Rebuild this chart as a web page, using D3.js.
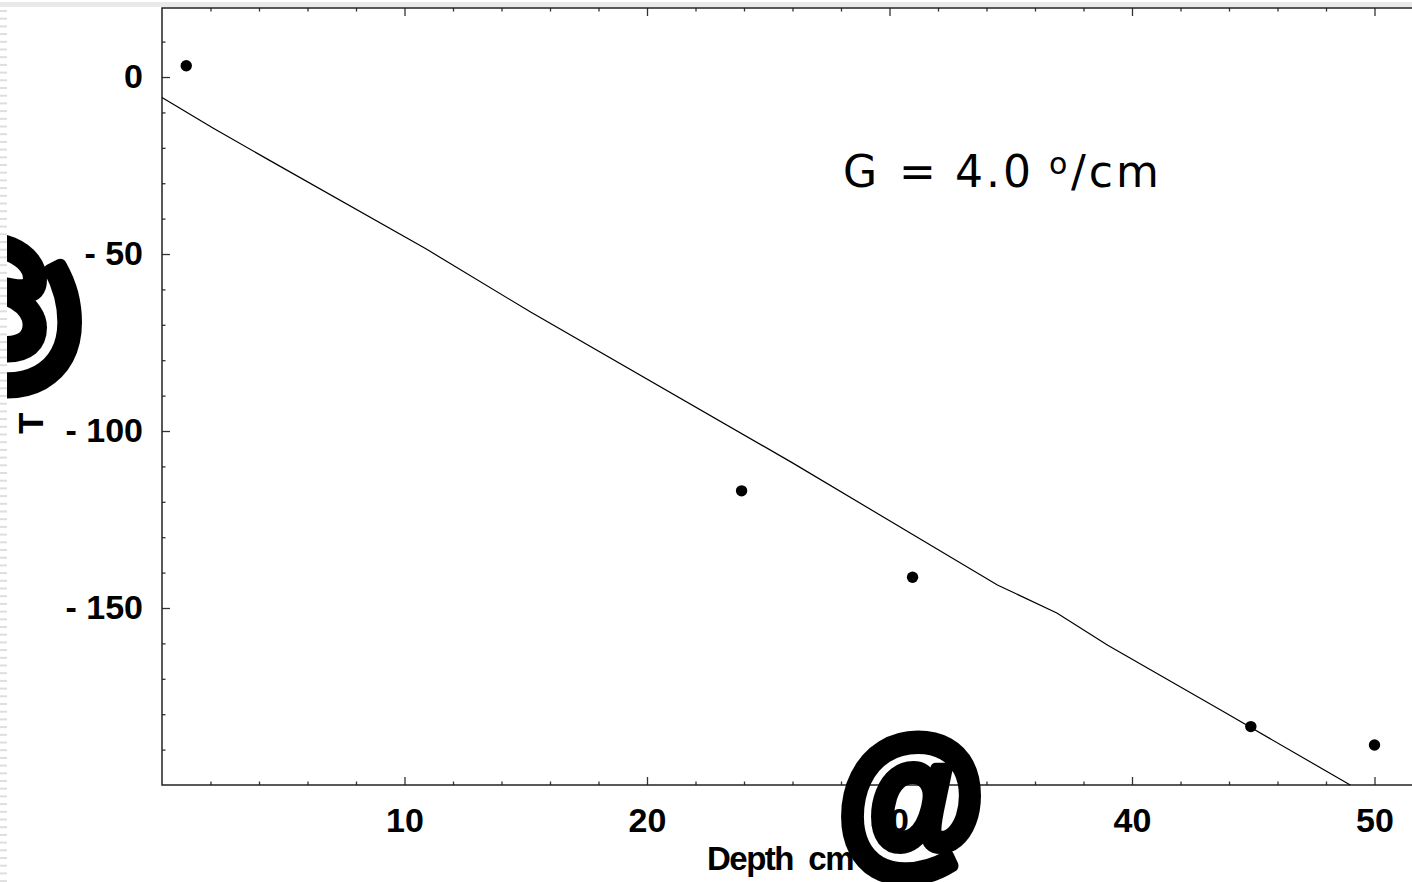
<!DOCTYPE html>
<html>
<head>
<meta charset="utf-8">
<script src="https://cdn.jsdelivr.net/npm/d3@7"></script>
<style>
  html, body { margin: 0; padding: 0; background: #fff; }
  svg { display: block; }
  text { font-family: "Liberation Sans", Arial, sans-serif; fill: #000; }
</style>
</head>
<body>
<div id="chart"></div>
<script>
// measured points (depth cm, temperature)
var depth = [1, 23.9, 30.95, 44.9, 50];
var temp = [3.2, -116.9, -141.3, -183.5, -188.7];

// fitted line at its kinks
var fitDepth = [0, 2.1, 4.4, 10.9, 15.2, 26.0, 34.45, 36.9, 39.0, 43.8, 49.0];
var fitTemp = [-5.8, -14.4, -23.4, -48.6, -66.4, -109.0, -143.5, -151.4, -160.5, -179.4, -200];

var xMajor = [10, 20, 30, 40, 50];
var xLabels = ["10", "20", "30", "40", "50"];
var xMinor = [2, 4, 6, 8, 12, 14, 16, 18, 22, 24, 26, 28, 32, 34, 36, 38, 42, 44, 46, 48];
var yMajor = [0, -50, -100, -150];
var yLabels = ["0", "- 50", "- 100", "- 150"];
var yMinor = [10, -10, -20, -30, -40, -60, -70, -80, -90, -110, -120, -130, -140, -160, -170, -180, -190];

var W = 1412, H = 882;

var svg = d3.select("#chart")
    .append("svg")
    .attr("width", W)
    .attr("height", H);

var x = d3.scaleLinear()
    .domain([0, 52])
    .range([162, 162 + 52 * 24.25]);

var y = d3.scaleLinear()
    .domain([-200, 19.5])
    .range([785, 8]);

// gray band on top
svg.append("rect")
    .attr("x", 0).attr("y", 2)
    .attr("width", W).attr("height", 5)
    .attr("fill", "#e9e9e9");

// ticks, all pointing inside the frame
function tickStyle(g) {
    g.select(".domain").remove();
    g.selectAll("line").attr("stroke", "#333").attr("stroke-width", 1.3);
}

svg.append("g")
    .attr("transform", "translate(0," + y(-200) + ")")
    .call(d3.axisBottom(x).tickValues(xMinor).tickSize(-3.5).tickFormat(""))
    .call(tickStyle);

svg.append("g")
    .attr("transform", "translate(0," + y(-200) + ")")
    .call(d3.axisBottom(x).tickValues(xMajor).tickSize(-8).tickPadding(23)
        .tickFormat(function (d, i) { return xLabels[i]; }))
    .call(tickStyle)
    .selectAll("text")
    .style("font-size", "34px")
    .style("font-weight", "bold");

svg.append("g")
    .attr("transform", "translate(0," + y(19.5) + ")")
    .call(d3.axisTop(x).tickValues(xMinor).tickSize(-3.5).tickFormat(""))
    .call(tickStyle);

svg.append("g")
    .attr("transform", "translate(0," + y(19.5) + ")")
    .call(d3.axisTop(x).tickValues(xMajor).tickSize(-8).tickFormat(""))
    .call(tickStyle);

svg.append("g")
    .attr("transform", "translate(" + x(0) + ",0)")
    .call(d3.axisLeft(y).tickValues(yMinor).tickSize(-3.5).tickFormat(""))
    .call(tickStyle);

svg.append("g")
    .attr("transform", "translate(" + x(0) + ",0)")
    .call(d3.axisLeft(y).tickValues(yMajor).tickSize(-8).tickPadding(19)
        .tickFormat(function (d, i) { return yLabels[i]; }))
    .call(tickStyle)
    .selectAll("text")
    .style("font-size", "34px")
    .style("font-weight", "bold");

// frame
svg.append("rect")
    .attr("x", x(0))
    .attr("y", y(19.5))
    .attr("width", x(52) - x(0))
    .attr("height", y(-200) - y(19.5))
    .attr("fill", "none")
    .attr("stroke", "#222")
    .attr("stroke-width", 1.5);

// fitted line
var fit = fitDepth.map(function (d, i) { return { d: d, t: fitTemp[i] }; });
svg.append("path")
    .datum(fit)
    .attr("d", d3.line()
        .x(function (d) { return x(d.d); })
        .y(function (d) { return y(d.t); }))
    .attr("fill", "none")
    .attr("stroke", "#000")
    .attr("stroke-width", 1.2);

// points
svg.append("g")
    .selectAll("circle")
    .data(depth)
    .enter()
    .append("circle")
    .attr("cx", function (d) { return x(d); })
    .attr("cy", function (d, i) { return y(temp[i]); })
    .attr("r", 5.7)
    .attr("fill", "#000");

// annotation
var note = svg.append("text")
    .attr("y", 187)
    .style("font-family", "'DejaVu Sans', sans-serif")
    .style("font-size", "44px");
note.append("tspan").attr("x", 843).text("G");
note.append("tspan").attr("x", 899).text("=");
note.append("tspan").attr("x", 955).style("letter-spacing", "3px").text("4.0");
note.append("tspan").attr("x", 1049).attr("dy", -13).style("font-size", "30px").text("o");
note.append("tspan").attr("x", 1071).attr("dy", 13).style("letter-spacing", "3px").text("/cm");

// x title, with the symbol glyph that covers it
svg.append("text")
    .attr("x", 707)
    .attr("y", 870)
    .style("font-size", "33px")
    .style("font-weight", "bold")
    .style("letter-spacing", "-1.5px")
    .style("white-space", "pre")
    .text("Depth  cm");

svg.append("text")
    .attr("transform", "translate(911,854) scale(1,1.1)")
    .attr("text-anchor", "middle")
    .style("font-size", "150px")
    .style("font-weight", "bold")
    .style("stroke", "#000")
    .style("stroke-width", 11)
    .style("stroke-linejoin", "round")
    .text("@");

// y title, rotated
svg.append("text")
    .attr("transform", "translate(43,434) rotate(-90)")
    .style("font-size", "35px")
    .style("font-weight", "bold")
    .text("T");

svg.append("text")
    .attr("transform", "translate(47,315) rotate(-90)")
    .attr("text-anchor", "middle")
    .style("font-size", "180px")
    .style("font-weight", "bold")
    .style("stroke", "#000")
    .style("stroke-width", 12)
    .style("stroke-linejoin", "round")
    .text("@");

// dashed strip along the left edge, over everything
svg.append("rect")
    .attr("x", 0).attr("y", 8)
    .attr("width", 7).attr("height", H - 8)
    .attr("fill", "#fff");
svg.append("g")
    .selectAll("rect")
    .data(d3.range(10, H, 7.7))
    .enter()
    .append("rect")
    .attr("x", 0)
    .attr("y", function (d) { return d; })
    .attr("width", 7)
    .attr("height", 2)
    .attr("fill", "#dedede");
</script>
</body>
</html>
